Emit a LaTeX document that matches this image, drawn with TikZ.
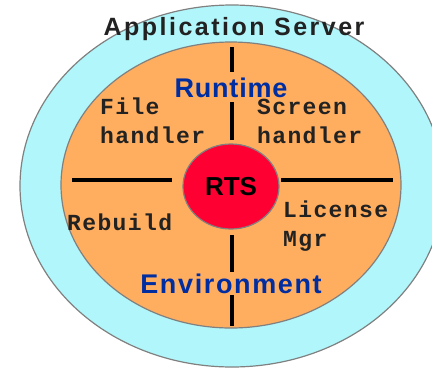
\documentclass[tikz,border=0pt]{standalone}
\usepackage{fontspec}
\setmainfont{Liberation Sans}
\newfontfamily\courfont{Liberation Mono}
\usetikzlibrary{positioning,shapes.geometric}

\definecolor{srvcyan}{RGB}{176,246,250}
\definecolor{rtorange}{RGB}{255,174,96}
\definecolor{rtsred}{RGB}{255,0,51}
\definecolor{rtblue}{RGB}{0,45,160}
\definecolor{txtgray}{RGB}{34,34,34}

\begin{document}
\begin{tikzpicture}[x=1pt,y=-1pt,
    rim/.style={draw=gray,line width=1.2pt},
    sep/.style={line width=4pt},
    part/.style={font=\courfont\bfseries\fontsize{23}{28.5}\selectfont\addfontfeature{LetterSpace=6},
      text=txtgray,align=left,inner sep=0pt,anchor=base west},
    layer/.style={font=\bfseries\fontsize{27}{30}\selectfont,text=rtblue,inner sep=0pt,anchor=base}]
    \useasboundingbox (0,0) rectangle (432,368);
    \clip (0,0) rectangle (432,368);
    \draw[rim,fill=srvcyan] (232,186) ellipse [x radius=212,y radius=181];
    \draw[rim,fill=rtorange] (231,185) ellipse [x radius=170,y radius=143];
    % dividers
    \draw[sep] (232,47)--(232,72) (232,102)--(232,140) (232,235)--(232,272) (232,295)--(232,326);
    \draw[sep] (72,180)--(172,180) (281,180)--(393,180);
    \node[rim,fill=rtsred,ellipse,minimum width=96pt,minimum height=85pt,inner sep=0pt,
      font=\bfseries\fontsize{26}{30}\selectfont] (rts) at (231,186.5) {RTS};
    \node[anchor=base,inner sep=0pt,text=txtgray,
      font=\bfseries\fontsize{25}{30}\selectfont\addfontfeature{LetterSpace=10}] (server) at (234,35) {Application Server};
    \node[layer] (runtime) at (231,97) {\addfontfeature{LetterSpace=3}Runtime};
    \node[layer] (environment) at (231,293) {\addfontfeature{LetterSpace=6}Environment};
    % last line baselines
    \node[part] (file) at (100,143) {File\\handler};
    \node[part] (screen) at (257,143) {Screen\\handler};
    \node[part] (rebuild) at (67,230) {Rebuild};
    \node[part] (license) at (283,246) {License\\Mgr};
\end{tikzpicture}
\end{document}
